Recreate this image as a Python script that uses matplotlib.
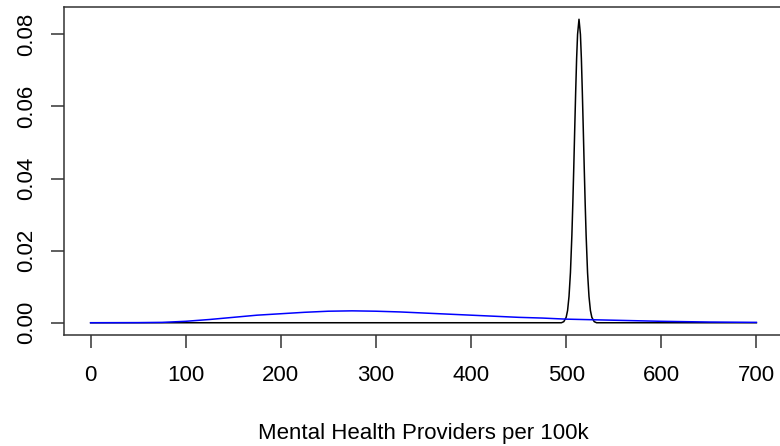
import matplotlib
matplotlib.use("Agg")
import matplotlib.pyplot as plt

# Black density curve (narrow peak)
black_x = [0, 495, 497.5, 500, 501.5, 503, 504.5, 506, 507, 508, 509, 510, 511, 512,
           513.5, 515, 516, 517, 518, 519, 520, 521, 522.5, 524, 525.5, 527, 529.5, 532, 700]
black_y = [0, 0.0000, 0.0003, 0.0015, 0.0034, 0.0073, 0.0139, 0.0242, 0.0330, 0.0430,
           0.0537, 0.0640, 0.0733, 0.0800, 0.0842, 0.0800, 0.0733, 0.0640, 0.0537, 0.0430,
           0.0330, 0.0242, 0.0139, 0.0073, 0.0034, 0.0015, 0.0003, 0.0000, 0]

# Blue density curve (broad)
blue_x = [0, 50, 75, 100, 125, 150, 175, 200, 225, 250, 275, 300, 325, 350, 375, 400,
          425, 450, 475, 500, 550, 600, 650, 700]
blue_y = [0.0, 0.00003, 0.0001, 0.0004, 0.0009, 0.0015, 0.0021, 0.0025, 0.0029, 0.0032,
          0.0033, 0.0032, 0.0030, 0.0027, 0.0024, 0.0021, 0.0018, 0.0015, 0.0013, 0.0010,
          0.0007, 0.0004, 0.0002, 0.0001]

x_ticks = [0, 100, 200, 300, 400, 500, 600, 700]
y_ticks = [0.00, 0.02, 0.04, 0.06, 0.08]
y_tick_labels = ["0.00", "0.02", "0.04", "0.06", "0.08"]
x_label = "Mental Health Providers per 100k"

plt.rcParams['font.family'] = ['Liberation Sans', 'DejaVu Sans']
fs = 16

fig = plt.figure(figsize=(7.8, 4.46), dpi=100)
# plot region extends slightly beyond the right edge of the image, as in the reference
ax = fig.add_axes([64/780, 111/446, 719/780, 328/446])

ax.plot(black_x, black_y, color="black", lw=1.1)
ax.plot(blue_x, blue_y, color="blue", lw=1.1)

ax.set_xlim(-28, 728)
ax.set_ylim(-0.0034, 0.0876)
ax.set_xticks(x_ticks)
ax.set_xticklabels([str(t) for t in x_ticks], fontsize=fs)
ax.set_yticks(y_ticks)
ax.set_yticklabels(y_tick_labels, fontsize=fs, rotation=90, va="center")
ax.tick_params(axis="both", direction="out", length=9.5, width=1.1, color="#333333")
ax.tick_params(axis="x", pad=12)
ax.tick_params(axis="y", pad=10)
for s in ax.spines.values():
    s.set_linewidth(1.1)
    s.set_color("#333333")

fig.text(423/780, 7/446, x_label, ha="center", va="baseline", fontsize=fs)

fig.savefig("out.png", dpi=100)
